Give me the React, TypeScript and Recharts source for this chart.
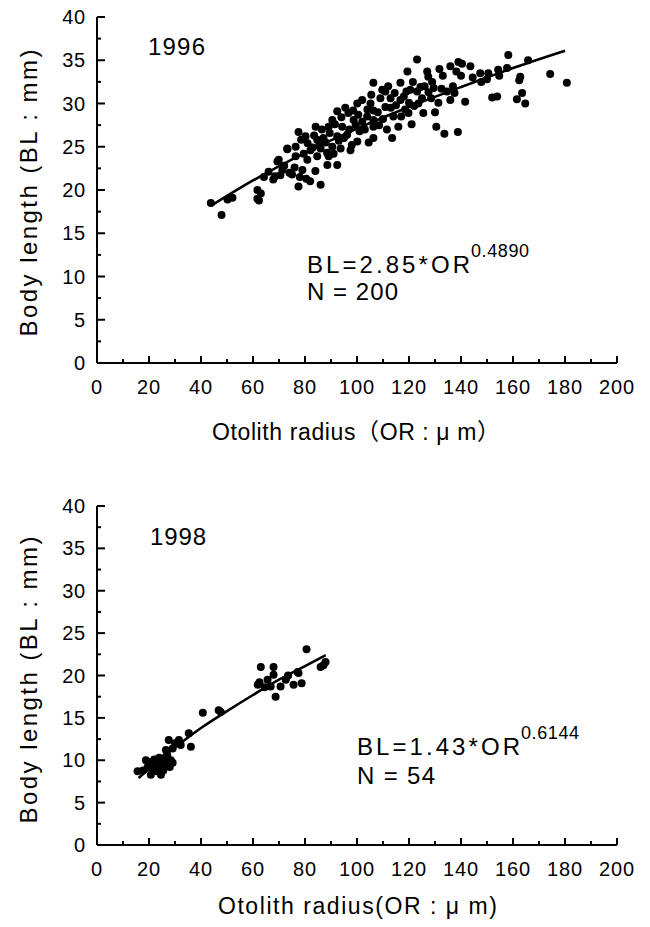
import React from 'react';
import { ComposedChart, Scatter, Line, XAxis, YAxis } from 'recharts';

// 1996 sample: otolith radius (um), body length (mm)
const points1996: [number, number][] = [
  [43.8, 18.5], [47.9, 17.1], [50.2, 18.9], [52.1, 19.1], [61.7, 20.0], [61.7, 19.0], [63, 19.6],
  [62.3, 18.8], [64.2, 21.5], [67.8, 21.2], [69.4, 23.3], [73.2, 24.7], [71.3, 22.3],
  [66, 22.1], [68.5, 21.6], [70.5, 21.7], [72, 22.8], [74, 22.0], [75, 21.8], [76, 22.6],
  [77.5, 20.4], [78, 21.5], [79, 22.3], [80.5, 21.3], [82, 21.0], [84, 22.2], [86, 20.6],
  [69.9, 23.5], [76.4, 23.9], [80.9, 23.5], [84.7, 23.9], [89.1, 23.9], [92.4, 22.9], [88.6, 22.9],
  [73.2, 24.8], [76.4, 25.0], [82.1, 24.6], [86, 24.8], [90.5, 25.0], [93.7, 24.8], [97.5, 24.6],
  [77.5, 26.7], [80.2, 26.2], [84.7, 25.8], [87.1, 26.0], [92.4, 26.2], [96.2, 26.4], [100.1, 25.6], [106.3, 26.0],
  [84.1, 27.3], [89.1, 27.3], [90.5, 28.1], [94.3, 27.3], [98.7, 28.1], [102, 27.9], [103.9, 28.5], [106.3, 28.1],
  [92.4, 29.1], [96.7, 28.9], [100.1, 30.0], [105.2, 30.0], [106.3, 32.4],
  [123.1, 35.1], [119.4, 33.7], [116.7, 32.4], [127, 33.7], [131.7, 34.0], [135.9, 34.3], [139, 34.8],
  [140.4, 34.6], [143.6, 34.3], [138.2, 33.7], [147.4, 33.5], [150.5, 33.5], [154.3, 33.9], [157.7, 34.1],
  [158.2, 35.6], [165.8, 35.0], [174.3, 33.4], [180.7, 32.4], [162.8, 33.1], [162.4, 32.7], [163.5, 31.2],
  [161.5, 30.5], [164.7, 30.0], [153.9, 30.8], [154.7, 33.2], [147.8, 32.5], [141.6, 30.2], [138.8, 26.7],
  [133.6, 26.5], [130.5, 27.3], [135.9, 30.4], [134.6, 31.4], [136.9, 32.0], [127.4, 33.1], [128.9, 32.5],
  [131.3, 30.1], [128.5, 30.6], [125.5, 28.9], [124.4, 31.9], [123.1, 31.4], [120.5, 31.6], [119, 31.4],
  [116.7, 30.4], [113.5, 26.0], [112.9, 30.6], [110.9, 29.6], [109, 30.6], [109.7, 31.6], [110.9, 31.4],
  [106.3, 29.2], [106.3, 27.3], [114, 28.5], [115.9, 27.3], [119.8, 28.9], [123.6, 30.0],
  [78.5, 25.8], [79.5, 24.2], [81, 25.4], [83, 24.9], [83.5, 26.3], [85.5, 25.2], [86.5, 27.0], [88, 25.5],
  [88.5, 24.3], [89.5, 26.6], [91, 24.2], [91.5, 27.6], [93, 25.7], [94, 28.4], [95, 26.0], [95.5, 29.5],
  [97, 27.0], [98, 25.2], [98.5, 29.2], [99.5, 27.5], [100.5, 28.7], [101, 26.8], [102, 30.4], [103, 27.0],
  [104, 29.3], [104.5, 25.5], [105.5, 31.0], [108, 29.0], [108.5, 27.5], [110, 28.2], [111.5, 27.0], [112, 32.0],
  [113, 29.5], [114.5, 31.2], [115, 29.8], [117, 28.5], [118, 30.8], [118.5, 29.3], [120, 30.1], [121, 27.6],
  [121.5, 32.5], [122, 29.7], [125, 30.6], [126, 32.0], [127.5, 31.3], [129.5, 31.8], [130, 29.0], [132.5, 31.7],
  [133, 33.2], [137.5, 31.2], [140, 33.2], [144.5, 33.0], [150, 32.8], [152, 30.7],
];

// fitted curve BL = 2.85*OR^0.4890
const fit1996: [number, number][] = [
  [44, 18.2], [60, 21.1], [80, 24.3], [100, 27.1], [120, 29.6], [140, 31.9], [160, 34.1], [180, 36.1],
];

// 1998 sample
const points1998: [number, number][] = [
  [15.6, 8.7], [17.7, 8.8], [18.8, 10.0], [20.7, 8.3], [22.6, 9.2], [23.9, 10.3], [24.6, 8.3], [25.8, 9.7],
  [26.5, 10.4], [28.4, 10.0], [29.1, 9.7], [27.6, 12.4], [26.5, 11.2], [29.1, 11.4], [31.5, 12.4], [32.2, 11.8],
  [35.3, 13.2], [36.1, 11.6], [40.7, 15.6], [46.8, 15.9], [47.6, 15.7], [61.8, 18.9], [63, 21.0], [65.6, 19.5],
  [66.8, 18.7], [67.9, 21.0], [67.9, 20.1], [68.7, 17.5], [70.6, 18.7], [72.6, 19.5], [75.6, 18.9], [77.2, 20.4],
  [77.5, 20.3], [78.7, 19.1], [80.6, 23.1], [86, 21.0], [87.1, 21.2], [87.9, 21.6],
  [19.5, 9.2], [21, 9.8], [21.5, 8.9], [22, 10.1], [23, 8.7], [23.5, 9.6], [24, 9.0], [25, 10.0],
  [25.5, 8.8], [26, 9.3], [27, 10.6], [28, 9.2], [30, 12.0], [64.5, 18.6], [73.5, 20.0], [62.5, 19.2],
];

// fitted curve BL = 1.43*OR^0.6144
const fit1998: [number, number][] = [
  [16, 7.9], [20, 9.0], [30, 11.5], [40, 13.8], [50, 15.8], [60, 17.7], [70, 19.5], [80, 21.1], [88, 22.4],
];

const xTicks = [0, 10, 20, 30, 40, 50, 60, 70, 80, 90, 100, 110, 120, 130, 140, 150, 160, 170, 180, 190, 200];
const yTicks = [0, 2.5, 5, 7.5, 10, 12.5, 15, 17.5, 20, 22.5, 25, 27.5, 30, 32.5, 35, 37.5, 40];

const FONT = '"Liberation Sans", Arial, "Noto Sans CJK JP", sans-serif';

const toObj = (arr: [number, number][]) => arr.map(([x, y]) => ({ x, y }));

const XTick = (props: any) => {
  const { x, y, payload } = props;
  const major = payload.value % 20 === 0;
  return (
    <g>
      <line x1={x} y1={y} x2={x} y2={y - (major ? 7 : 4)} stroke="#000" strokeWidth={2} />
      {major && (
        <text x={x} y={y + 31} textAnchor="middle" fontSize={20} letterSpacing={0.8} fontFamily={FONT} fill="#000">
          {payload.value}
        </text>
      )}
    </g>
  );
};

const YTick = (props: any) => {
  const { x, y, payload } = props;
  const major = payload.value % 5 === 0;
  return (
    <g>
      <line x1={x} y1={y} x2={x + (major ? 8 : 4)} y2={y} stroke="#000" strokeWidth={2} />
      {major && (
        <text x={x - 11} y={y + 7} textAnchor="end" fontSize={20} letterSpacing={0.8} fontFamily={FONT} fill="#000">
          {payload.value}
        </text>
      )}
    </g>
  );
};

const Dot = (props: any) => <circle cx={props.cx} cy={props.cy} r={4} fill="#000" />;

interface PanelProps {
  pts: [number, number][];
  fit: [number, number][];
  height: number;
  top: number;
  bottom: number;
}

const Panel: React.FC<PanelProps> = ({ pts, fit, height, top, bottom }) => (
  <ComposedChart width={650} height={height} margin={{ top, right: 33, bottom, left: 37 }}>
    <XAxis
      dataKey="x"
      type="number"
      domain={[0, 200]}
      ticks={xTicks}
      interval={0}
      height={30}
      tickSize={0}
      tickMargin={0}
      tickLine={false}
      tick={<XTick />}
      axisLine={{ stroke: '#000', strokeWidth: 2 }}
    />
    <YAxis
      dataKey="y"
      type="number"
      domain={[0, 40]}
      ticks={yTicks}
      interval={0}
      width={60}
      tickSize={0}
      tickMargin={0}
      tickLine={false}
      tick={<YTick />}
      axisLine={{ stroke: '#000', strokeWidth: 2 }}
    />
    <Scatter data={toObj(pts)} fill="#000" shape={<Dot />} isAnimationActive={false} />
    <Line
      data={toObj(fit)}
      dataKey="y"
      type="monotone"
      stroke="#000"
      strokeWidth={2.6}
      dot={false}
      activeDot={false}
      isAnimationActive={false}
    />
  </ComposedChart>
);

const Labels: React.FC = () => (
  <svg width={650} height={927} style={{ position: 'absolute', left: 0, top: 0, pointerEvents: 'none' }}>
    <g fontFamily={FONT} fill="#000">
      {/* 1996 panel */}
      <text x={148} y={55} fontSize={24} textLength={57} lengthAdjust="spacing">1996</text>
      <text
        transform="translate(28,193) rotate(-90)"
        textAnchor="middle"
        dominantBaseline="central"
        fontSize={24}
        textLength={287}
        lengthAdjust="spacing"
      >
        Body length (BL : mm)
      </text>
      <text x={212} y={440} fontSize={23} textLength={288} lengthAdjust="spacing">
        Otolith radius（OR : μ m）
      </text>
      <text x={307} y={273} fontSize={24} textLength={163} lengthAdjust="spacing">BL=2.85*OR</text>
      <text x={471} y={257} fontSize={18} letterSpacing={0.6}>0.4890</text>
      <text x={307} y={300} fontSize={24} textLength={91} lengthAdjust="spacing">N = 200</text>

      {/* 1998 panel */}
      <text x={150} y={545} fontSize={24} textLength={56} lengthAdjust="spacing">1998</text>
      <text
        transform="translate(28,680) rotate(-90)"
        textAnchor="middle"
        dominantBaseline="central"
        fontSize={24}
        textLength={287}
        lengthAdjust="spacing"
      >
        Body length (BL : mm)
      </text>
      <text x={218} y={914} fontSize={23} textLength={279} lengthAdjust="spacing">
        Otolith radius(OR : μ m)
      </text>
      <text x={357} y={755} fontSize={24} textLength={163} lengthAdjust="spacing">BL=1.43*OR</text>
      <text x={521} y={739} fontSize={18} letterSpacing={0.6}>0.6144</text>
      <text x={357} y={784} fontSize={24} textLength={78} lengthAdjust="spacing">N = 54</text>
    </g>
  </svg>
);

export default function App() {
  return (
    <div style={{ position: 'absolute', left: 0, top: 0, width: 650, height: 927, background: '#fff' }}>
      <div style={{ position: 'absolute', left: 0, top: 0 }}>
        <Panel pts={points1996} fit={fit1996} height={463} top={17} bottom={70} />
      </div>
      <div style={{ position: 'absolute', left: 0, top: 463 }}>
        <Panel pts={points1998} fit={fit1998} height={464} top={43} bottom={52} />
      </div>
      <Labels />
    </div>
  );
}
